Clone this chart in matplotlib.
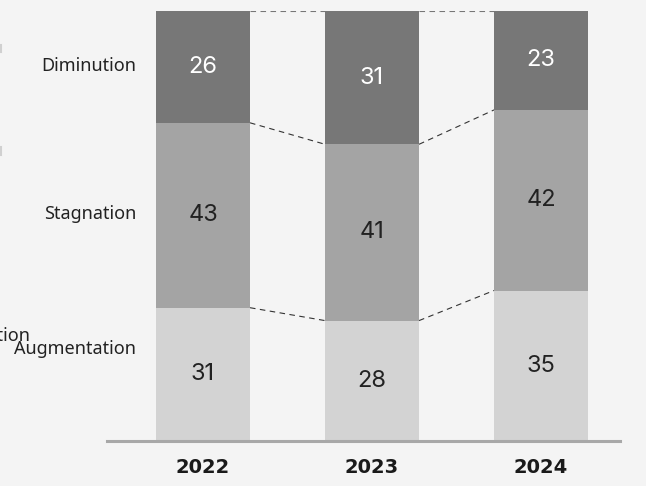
import matplotlib.pyplot as plt
from matplotlib.lines import Line2D

years = ['2022', '2023', '2024']
categories = ['Augmentation', 'Stagnation', 'Diminution']
augmentation = [31, 28, 35]
stagnation = [43, 41, 42]
diminution = [26, 31, 23]

colors = ['#d3d3d3', '#a4a4a4', '#777777']
text_colors = ['#222222', '#222222', '#ffffff']

fig = plt.figure(figsize=(6.46, 4.86), dpi=100)
fig.patch.set_facecolor('#f4f4f4')
ax = fig.add_axes([107 / 646, 45 / 486, 513 / 646, 430 / 486])
ax.set_facecolor('#f4f4f4')

x = list(range(len(years)))
w = 0.556
series = [augmentation, stagnation, diminution]
bottoms = [0] * len(years)
tops_list = []
for vals, c, tc in zip(series, colors, text_colors):
    ax.bar(x, vals, width=w, bottom=bottoms, color=c, zorder=2)
    for xi, b, v in zip(x, bottoms, vals):
        ax.text(xi, b + v / 2, str(v), ha='center', va='center', fontsize=17,
                color=tc, family='Inter', zorder=3)
    bottoms = [b + v for b, v in zip(bottoms, vals)]
    tops_list.append(list(bottoms))

# dashed connectors between bars
for level, tops in enumerate(tops_list):
    lc = '#777777' if level == len(tops_list) - 1 else '#333333'
    for i in range(len(years) - 1):
        ax.plot([x[i] + w / 2, x[i + 1] - w / 2], [tops[i], tops[i + 1]],
                linestyle=(0, (5, 4)), color=lc, linewidth=0.8, zorder=1)

# category labels on the left
label_y = [21.4, 52.8, 87.2]
for cat, yy in zip(categories, label_y):
    ax.text(-0.396, yy, cat, ha='right', va='center', fontsize=13,
            color='#222222', family='Noto Sans', clip_on=False)
ax.text(-1.024, 24.4, 'Augmentation', ha='right', va='center', fontsize=13,
        color='#222222', family='Noto Sans', clip_on=False)

ax.set_xlim(-0.568, 2.467)
ax.set_ylim(0, 100)
ax.set_xticks(x)
ax.set_xticklabels(years, fontsize=14, fontweight='heavy', color='#1a1a1a', family='DejaVu Sans')
ax.tick_params(axis='x', length=0, pad=12)
ax.set_yticks([])
for s in ['top', 'left', 'right']:
    ax.spines[s].set_visible(False)
ax.spines['bottom'].set_color('#a8a8a8')
ax.spines['bottom'].set_linewidth(2.2)
ax.spines['bottom'].set_zorder(4)

# small marks on left edge
for y0, y1 in [(45, 52), (147, 155)]:
    fig.add_artist(Line2D([1 / 646, 1 / 646], [1 - y0 / 486, 1 - y1 / 486],
                          color='#d0d0d0', linewidth=1.5))

fig.savefig('out.png', dpi=100, facecolor=fig.get_facecolor())
